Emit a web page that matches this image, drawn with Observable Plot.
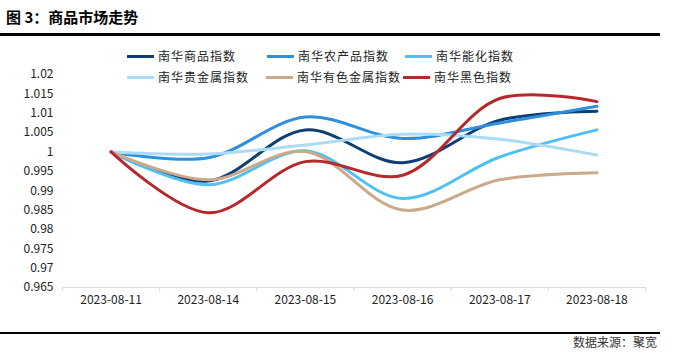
<!DOCTYPE html>
<html><head><meta charset="utf-8">
<script src="https://cdn.jsdelivr.net/npm/d3@7"></script>
<script src="https://cdn.jsdelivr.net/npm/@observablehq/plot@0.6"></script>
<style>
body{margin:0;background:#fff;}
#wrap{position:relative;width:676px;height:364px;overflow:hidden;font-family:"Noto Sans CJK SC",sans-serif;background:#fff;}
#title{position:absolute;left:6px;top:8px;font-size:15px;font-weight:bold;color:#000;line-height:18px;}
.hr{position:absolute;left:0;width:660px;height:3px;background:#000;}
#src{position:absolute;right:19px;top:335px;font-size:12px;color:#333;line-height:14px;}
.leg{position:absolute;font-size:12px;letter-spacing:1px;color:#222;display:flex;align-items:center;white-space:nowrap;line-height:14px;height:14px;}
.leg .sw{display:inline-block;width:27px;height:3px;margin-right:4px;}
#chart{position:absolute;left:0;top:0;}
</style></head>
<body>
<div id="wrap">
  <div id="chart"></div>
  <div id="title">图 3：商品市场走势</div>
  <div class="hr" style="top:33px"></div>
  <div id="legend"></div>
  <div class="hr" style="top:332px;height:2px"></div>
  <div id="src">数据来源：聚宽</div>
</div>
<script>
const dates = ["2023-08-11","2023-08-14","2023-08-15","2023-08-16","2023-08-17","2023-08-18"];
const seriesNames = ["南华商品指数","南华农产品指数","南华能化指数","南华贵金属指数","南华有色金属指数","南华黑色指数"];
const commodity  = [1, 0.9925, 1.0057, 0.9972, 1.0082, 1.0105];
const agri       = [1, 0.9985, 1.0090, 1.0035, 1.0075, 1.0118];
const energy     = [1, 0.9915, 1.0003, 0.9880, 0.9987, 1.0057];
const precious   = [1, 0.9995, 1.0018, 1.0046, 1.0033, 0.9992];
const nonferrous = [1, 0.9928, 1.0001, 0.9850, 0.9928, 0.9946];
const black      = [1, 0.9843, 0.9975, 0.9940, 1.0138, 1.0130];
const yTicks = [0.965, 0.97, 0.975, 0.98, 0.985, 0.99, 0.995, 1, 1.005, 1.01, 1.015, 1.02];
const colors = ["#0d3f73", "#2f8fdb", "#4fc0f0", "#acdcf5", "#cba98b", "#b5282b"];

const allSeries = [commodity, agri, energy, precious, nonferrous, black];
const rows = [];
allSeries.forEach((arr, k) => arr.forEach((v, i) => rows.push({s: seriesNames[k], i, v})));
const bounds = d3.range(dates.length + 1).map(i => i - 0.5);

const chart = Plot.plot({
  width: 676, height: 364,
  marginTop: 74, marginBottom: 77, marginLeft: 62, marginRight: 31,
  style: {fontFamily: "'Noto Sans CJK SC', sans-serif", fontSize: "12px", color: "#222", background: "transparent"},
  x: {domain: [-0.5, dates.length - 0.5], axis: null, label: null},
  y: {domain: [0.965, 1.02], axis: null, label: null},
  color: {domain: seriesNames, range: colors},
  marks: [
    Plot.ruleY([0.965], {stroke: "#d9d9d9", strokeWidth: 1}),
    Plot.axisX(bounds, {tickSize: 4, stroke: "#d9d9d9", tickFormat: () => "", strokeWidth: 1, label: null}),
    Plot.axisX(d3.range(dates.length), {tickSize: 0, tickPadding: 8, tickFormat: i => dates[i], fill: "#222", label: null}),
    Plot.axisY(yTicks, {tickSize: 0, tickPadding: 9, tickFormat: d3.format("~g"), fill: "#222", label: null}),
    Plot.line(rows, {x: "i", y: "v", z: "s", stroke: "s", curve: "catmull-rom", strokeWidth: 3})
  ]
});
document.getElementById("chart").appendChild(chart);

const legPos = [[127, 49], [267, 49], [405, 49], [127, 70], [266, 70], [403, 70]];
const legend = document.getElementById("legend");
seriesNames.forEach((n, k) => {
  const d = document.createElement("div");
  d.className = "leg";
  d.style.left = legPos[k][0] + "px";
  d.style.top = legPos[k][1] + "px";
  d.innerHTML = `<span class="sw" style="background:${colors[k]}"></span><span>${n}</span>`;
  legend.appendChild(d);
});
</script>
</body></html>
